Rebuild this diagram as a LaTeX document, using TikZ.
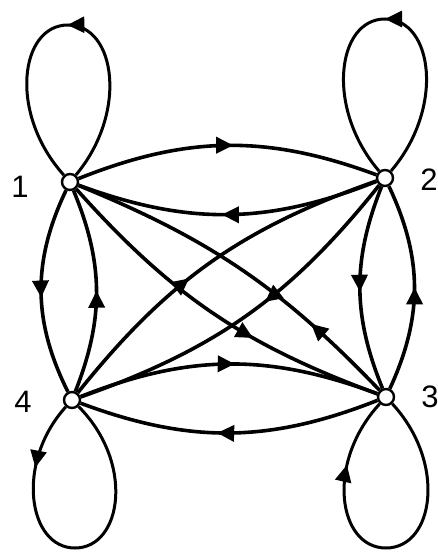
\documentclass[tikz,border=0pt]{standalone}
\usepackage{fontspec}
\setmainfont{Liberation Sans}
\usetikzlibrary{arrows.meta,decorations.markings}
\begin{document}
\begin{tikzpicture}[x=1pt,y=1pt,
  vtx/.style={circle,draw,fill=white,line width=2.4pt,minimum size=16pt,inner sep=0pt},
  lbl/.style={font=\fontsize{31}{31}\selectfont,inner sep=0pt},
  edge/.style={line width=3.6pt},
  loopline/.style={line width=3pt},
  tipat/.style={postaction={decorate},decoration={markings,mark=at position #1 with {\arrow{Triangle[length=17pt,width=16pt]}}}},
]
\useasboundingbox (0,0) rectangle (438,553);
\fill[white] (0,0) rectangle (438,553);

\node[vtx] (n1) at (70,371) {};
\node[vtx] (n2) at (385,375) {};
\node[vtx] (n3) at (386,156) {};
\node[vtx] (n4) at (72,153) {};

\node[lbl] (l1) at (20,366) {1};
\node[lbl] (l2) at (429,373) {2};
\node[lbl] (l3) at (430,156) {3};
\node[lbl] (l4) at (23,151) {4};

% pairs 1-2 and 4-3
\draw[edge,tipat=0.52] (n1) to[bend left=21] (n2);
\draw[edge,tipat=0.52] (n2) to[bend left=21] (n1);
\draw[edge,tipat=0.52] (n4) to[bend left=21] (n3);
\draw[edge,tipat=0.54] (n3) to[bend left=21] (n4);
% pairs 1-4 and 2-3
\draw[edge,tipat=0.53] (n1) to[bend right=26] (n4);
\draw[edge,tipat=0.5] (n4) to[bend right=22] (n1);
\draw[edge,tipat=0.52] (n2) to[bend right=22] (n3);
\draw[edge,tipat=0.5] (n3) to[bend right=25] (n2);
% diagonals
\draw[edge,tipat=0.63] (n1) to[bend right=14] (n3);
\draw[edge,tipat=0.26] (n3) to[bend right=12] (n1);
\draw[edge,tipat=0.43] (n4) to[bend left=16] (n2);
\draw[edge,tipat=0.44] (n2) to[bend left=16] (n4);

% loops
\draw[loopline,tipat=0.5] (n1) .. controls (128,440) and (116,528) .. (68,528) .. controls (20,528) and (8,440) .. (n1);
\draw[loopline,tipat=0.5] (n2) .. controls (445,445) and (433,534) .. (385,534) .. controls (337,534) and (325,445) .. (n2);
\draw[loopline,tipat=0.2] (n4) .. controls (15,90) and (28,5) .. (75,5) .. controls (122,5) and (135,90) .. (n4);
\draw[loopline,tipat=0.8] (n3) .. controls (447,90) and (434,5) .. (386,5) .. controls (338,5) and (325,90) .. (n3);
\end{tikzpicture}
\end{document}
